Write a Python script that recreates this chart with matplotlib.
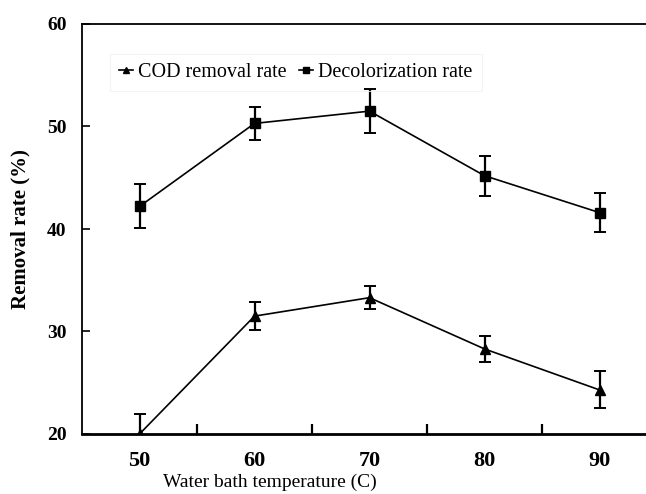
import matplotlib
matplotlib.use("Agg")
import matplotlib.pyplot as plt
from matplotlib.ticker import FixedLocator
from matplotlib.lines import Line2D

plt.rcParams['font.family'] = ['Liberation Serif', 'DejaVu Serif']

temps = ['50', '60', '70', '80', '90']
cod_rate = [20.0, 31.5, 33.3, 28.3, 24.3]
cod_err = [2.0, 1.4, 1.15, 1.3, 1.8]
decol_rate = [42.2, 50.3, 51.5, 45.2, 41.6]
decol_err = [2.15, 1.6, 2.15, 1.95, 1.9]

fig = plt.figure(figsize=(6.46, 4.94), dpi=100)
ax = fig.add_axes([82/646, 1-434/494, 575/646, 410/494])

x = list(range(len(temps)))
ax.errorbar(x, cod_rate, yerr=cod_err, color='black', lw=1.2, marker='^', ms=7,
            elinewidth=1.6, capsize=4, capthick=1.4)
ax.errorbar(x, decol_rate, yerr=decol_err, color='black', lw=1.2, marker='s', ms=7,
            elinewidth=1.6, capsize=4, capthick=1.4)

ax.set_xlim(-0.5, 4.5)
ax.set_ylim(20, 60)
ax.set_yticks([20, 30, 40, 50, 60])
ax.set_xticks(x)
ax.set_xticklabels(temps)
ax.xaxis.set_minor_locator(FixedLocator([0.5, 1.5, 2.5, 3.5]))
ax.tick_params(axis='x', which='major', length=0, pad=12, labelsize=16)
ax.tick_params(axis='x', which='minor', length=7, width=1.6, direction='in')
ax.tick_params(axis='y', length=6, width=1.2, direction='in', pad=11, labelsize=14)
for lab in ax.get_xticklabels() + ax.get_yticklabels():
    lab.set_fontweight('bold')

for s in ['left', 'top']:
    ax.spines[s].set_linewidth(1.3)
ax.spines['bottom'].set_linewidth(2)
ax.spines['right'].set_visible(False)

ax.set_ylabel('Removal rate (%)', fontsize=15, fontweight='bold', labelpad=12)
fig.text(270/646, 1-482/494, 'Water bath temperature (C)', fontsize=14,
         ha='center', va='center')

handles = [
    Line2D([], [], color='black', lw=1.2, marker='^', ms=5),
    Line2D([], [], color='black', lw=1.2, marker='s', ms=5),
]
leg = ax.legend(handles, ['COD removal rate', 'Decolorization rate'],
                loc='upper left', bbox_to_anchor=(18/575, 1-20/410), ncol=2,
                fontsize=14.5, frameon=True, fancybox=False, handlelength=0.7,
                handletextpad=0.25, columnspacing=0.6, borderpad=0.45)
leg.get_frame().set_edgecolor('#f0f0f0')
leg.get_frame().set_facecolor('none')
leg.get_frame().set_linewidth(0.8)

fig.savefig('out.png', dpi=100)
